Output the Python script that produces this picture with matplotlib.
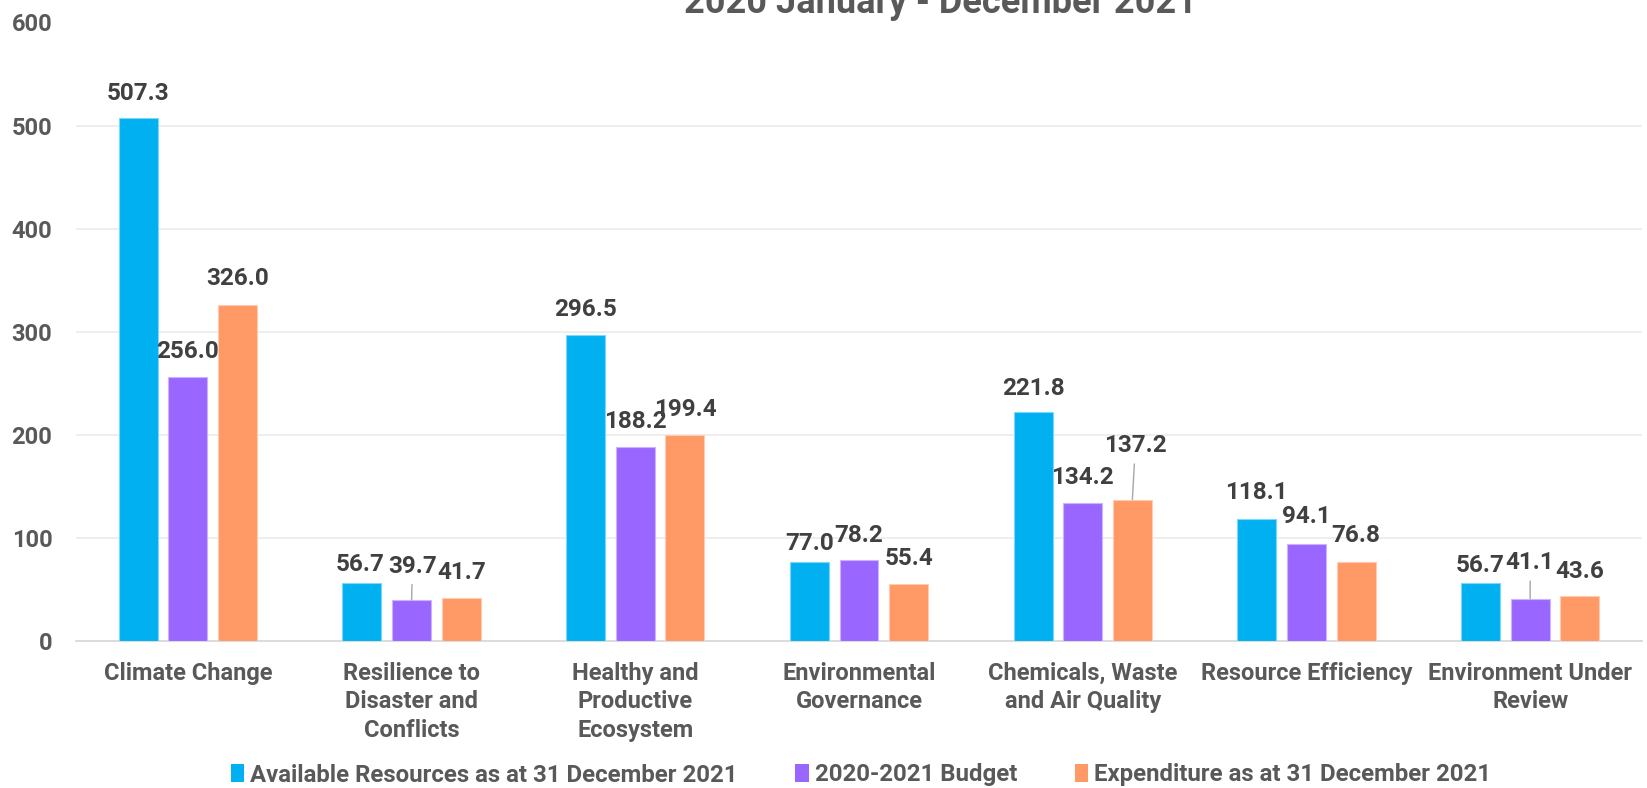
import matplotlib
matplotlib.use("Agg")
import matplotlib.pyplot as plt
from matplotlib.patches import Patch
import numpy as np

# ---------------- data ----------------
categories = [
    "Climate Change",
    "Resilience to\nDisaster and\nConflicts",
    "Healthy and\nProductive\nEcosystem",
    "Environmental\nGovernance",
    "Chemicals, Waste\nand Air Quality",
    "Resource Efficiency",
    "Environment Under\nReview",
]
series_names = [
    "Available Resources as at 31 December 2021",
    "2020-2021 Budget",
    "Expenditure as at 31 December 2021",
]
available = [507.3, 56.7, 296.5, 77.0, 221.8, 118.1, 56.7]
budget = [256.0, 39.7, 188.2, 78.2, 134.2, 94.1, 41.1]
expenditure = [326.0, 41.7, 199.4, 55.4, 137.2, 76.8, 43.6]
yticks = [0, 100, 200, 300, 400, 500, 600]
title = "2020 January - December 2021"

# ---------------- style / layout ----------------
colors = ["#00B0F0", "#9966FF", "#FF9966"]
edge_colors = ["#7FD7F7", "#CCB2FF", "#FFCCB2"]
text_dark = "#404040"
text_grey = "#595959"
FONT = "Roboto"

# label vertical offsets in pixels above the bar top (layout only)
label_dy_px = [
    [25, 18, 26, 18, 24, 27, 17],
    [26, 34, 25, 25, 25, 27, 36],
    [26, 26, 26, 25, 54, 26, 25],
]
label_dx_px = [
    [0, -2, 0, 0, 0, 0, 0],
    [0, 1, 0, 0, 0, 0, 0],
    [0, 0, 0, 0, 3, 0, 0],
]
leaders = {(1, 1), (1, 6), (2, 4)}

W, H = 1647, 788
fig = plt.figure(figsize=(W / 100, H / 100), dpi=100)
ax_left, ax_right, ax_top, ax_bottom = 76, 1642, 22.5, 641
ax = fig.add_axes([ax_left / W, 1 - ax_bottom / H,
                   (ax_right - ax_left) / W, (ax_bottom - ax_top) / H])

x = np.arange(len(categories))
bar_w = 0.174
step = 0.222
all_series = [available, budget, expenditure]
for s, vals in enumerate(all_series):
    pos = x + (s - 1) * step
    ax.bar(pos, vals, width=bar_w, color=colors[s], edgecolor=edge_colors[s],
           linewidth=0.8, zorder=3, label=series_names[s])
    for i, v in enumerate(vals):
        dy = label_dy_px[s][i] * 0.72
        dx = label_dx_px[s][i] * 0.72
        kw = {}
        if (s, i) in leaders:
            kw["arrowprops"] = dict(arrowstyle="-", color="#A6A6A6", lw=1.0,
                                    shrinkA=3, shrinkB=0)
        ax.annotate(f"{v:.1f}", xy=(pos[i], v), xytext=(dx, dy),
                    textcoords="offset points", ha="center", va="center",
                    fontsize=17.5, fontweight="bold", color=text_dark,
                    family=FONT, zorder=4, **kw)

ax.set_xlim(-0.5, len(categories) - 0.5)
ax.set_ylim(0, 600)
ax.set_yticks(yticks)
ax.set_yticklabels([str(t) for t in yticks], fontsize=17, fontweight="bold",
                   color=text_grey, family=FONT)
ax.set_xticks(x)
ax.set_xticklabels(categories, fontsize=17, fontweight="bold", color=text_grey,
                   family=FONT, linespacing=1.3)
ax.tick_params(axis="both", length=0)
ax.tick_params(axis="y", pad=17)
ax.tick_params(axis="x", pad=15)
for sp in ["top", "right", "left"]:
    ax.spines[sp].set_visible(False)
ax.spines["bottom"].set_color("#D9D9D9")
ax.spines["bottom"].set_linewidth(1.3)
ax.grid(axis="y", color="#EDEDED", linewidth=1.3, zorder=0)
ax.set_axisbelow(True)

fig.text(940 / W, 1 - 13 / H, title, ha="center", va="baseline",
         fontsize=26, fontweight="bold", color=text_grey, family=FONT)

handles = [Patch(facecolor=c, edgecolor="none") for c in colors]
leg = fig.legend(handles, series_names, loc="center", ncol=3,
                 bbox_to_anchor=(861 / W, 1 - 775 / H), frameon=False,
                 prop={"family": FONT, "weight": "bold", "size": 17.3},
                 handlelength=0.55, handleheight=0.8, handletextpad=0.25,
                 columnspacing=2.4, borderaxespad=0, borderpad=0)
for t in leg.get_texts():
    t.set_color(text_grey)

fig.savefig("out.png", dpi=100, facecolor="white")
